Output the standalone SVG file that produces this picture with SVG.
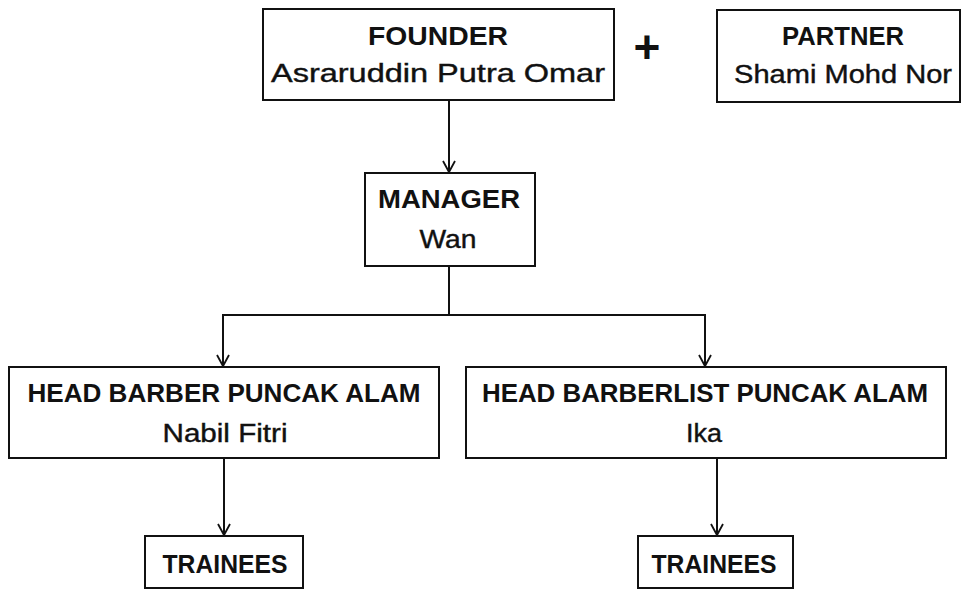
<svg xmlns="http://www.w3.org/2000/svg" width="962" height="589" viewBox="0 0 962 589">
  <defs>
    <marker id="arr" markerWidth="14" markerHeight="14" refX="12" refY="7" orient="auto" markerUnits="userSpaceOnUse" viewBox="0 0 14 14">
      <path d="M1,1 L12,7 L1,13" fill="none" stroke="#111" stroke-width="1.8"/>
    </marker>
    <style>
      .box { fill: #ffffff; stroke: #111; stroke-width: 2; }
      .t { font-family: "Liberation Sans", Arial, sans-serif; font-weight: bold; font-size: 25px; fill: #111; text-anchor: middle; }
      .n { font-family: "Liberation Sans", Arial, sans-serif; font-weight: normal; font-size: 25px; fill: #111; text-anchor: middle; stroke: #111; stroke-width: 0.4; }
      .c { fill: none; stroke: #111; stroke-width: 2; }
    </style>
  </defs>
  <rect width="962" height="589" fill="#ffffff"/>

  <g id="connectors">
    <line class="c" x1="449" y1="100" x2="449" y2="172" marker-end="url(#arr)"/>
    <line class="c" x1="449" y1="266" x2="449" y2="315"/>
    <line class="c" x1="222" y1="315" x2="706" y2="315"/>
    <line class="c" x1="223" y1="314" x2="223" y2="366" marker-end="url(#arr)"/>
    <line class="c" x1="705" y1="314" x2="705" y2="366" marker-end="url(#arr)"/>
    <line class="c" x1="224" y1="458" x2="224" y2="535" marker-end="url(#arr)"/>
    <line class="c" x1="717" y1="458" x2="717" y2="535" marker-end="url(#arr)"/>
  </g>

  <g id="founder">
    <rect class="box" x="263" y="9" width="351" height="91"/>
    <text class="t" x="438" y="45" textLength="140" lengthAdjust="spacingAndGlyphs">FOUNDER</text>
    <text class="n" x="438" y="82" textLength="334" lengthAdjust="spacingAndGlyphs">Asraruddin Putra Omar</text>
  </g>

  <g id="plus">
    <text x="647" y="63" font-family="Liberation Sans, Arial, sans-serif" font-weight="bold" font-size="46" fill="#111" text-anchor="middle">+</text>
  </g>

  <g id="partner">
    <rect class="box" x="717" y="10" width="243" height="92"/>
    <text class="t" x="843" y="45" textLength="122" lengthAdjust="spacingAndGlyphs">PARTNER</text>
    <text class="n" x="843" y="83" textLength="218" lengthAdjust="spacingAndGlyphs">Shami Mohd Nor</text>
  </g>

  <g id="manager">
    <rect class="box" x="365" y="173" width="170" height="93"/>
    <text class="t" x="449" y="208" textLength="142" lengthAdjust="spacingAndGlyphs">MANAGER</text>
    <text class="n" x="448" y="248" textLength="57" lengthAdjust="spacingAndGlyphs">Wan</text>
  </g>

  <g id="head-barber">
    <rect class="box" x="9" y="367" width="430" height="91"/>
    <text class="t" x="224" y="402" textLength="393" lengthAdjust="spacingAndGlyphs">HEAD BARBER PUNCAK ALAM</text>
    <text class="n" x="225" y="442" textLength="125" lengthAdjust="spacingAndGlyphs">Nabil Fitri</text>
  </g>

  <g id="head-barberlist">
    <rect class="box" x="466" y="367" width="480" height="91"/>
    <text class="t" x="705" y="402" textLength="446" lengthAdjust="spacingAndGlyphs">HEAD BARBERLIST PUNCAK ALAM</text>
    <text class="n" x="704" y="442" textLength="36" lengthAdjust="spacingAndGlyphs">Ika</text>
  </g>

  <g id="trainees-1">
    <rect class="box" x="145" y="536" width="158" height="52"/>
    <text class="t" x="225" y="573" textLength="125" lengthAdjust="spacingAndGlyphs">TRAINEES</text>
  </g>

  <g id="trainees-2">
    <rect class="box" x="638" y="536" width="155" height="52"/>
    <text class="t" x="714" y="573" textLength="125" lengthAdjust="spacingAndGlyphs">TRAINEES</text>
  </g>
</svg>
